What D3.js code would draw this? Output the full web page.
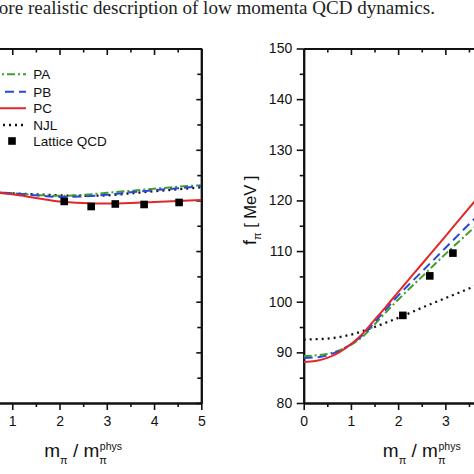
<!DOCTYPE html>
<html><head><meta charset="utf-8">
<script src="https://cdn.jsdelivr.net/npm/d3@7"></script>
<style>body{margin:0;background:#fff}svg{display:block}</style>
</head><body>
<script>
// ---- data ----
const seriesNames = ["PA", "PB", "PC", "NJL"];
const legendLabels = ["PA", "PB", "PC", "NJL", "Lattice QCD"];
const xTicks = [0, 1, 2, 3, 4, 5];
const yTicks = [80, 90, 100, 110, 120, 130, 140, 150];

// left panel (quantity normalised in same frame)
const leftX   = [0.5, 1, 1.5, 2, 2.5, 3, 3.5, 4, 4.5, 5];
const leftPA  = [121.7, 121.4, 121.1, 120.9, 121.1, 121.5, 121.9, 122.3, 122.7, 123.0];
const leftPB  = [121.7, 121.4, 121.0, 120.7, 120.8, 121.1, 121.6, 122.0, 122.4, 122.8];
const leftPC  = [121.7, 121.2, 120.5, 119.8, 119.5, 119.4, 119.5, 119.7, 119.9, 120.1];
const leftNJL = [121.6, 121.4, 121.2, 121.0, 120.9, 121.0, 121.4, 121.8, 122.2, 122.6];
const leftLatX = [2.1, 2.67, 3.18, 3.79, 4.53];
const leftLatY = [119.8, 118.8, 119.3, 119.2, 119.6];

// right panel: f_pi [MeV]
const rightX   = [0, 0.25, 0.5, 0.75, 1, 1.25, 1.5, 1.75, 2, 2.5, 3, 3.5, 4];
const rightPA  = [89.3, 89.4, 89.7, 90.4, 91.5, 93.1, 95.5, 98.0, 100.4, 104.9, 109.4, 113.7, 118.0];
const rightPB  = [88.9, 89.0, 89.4, 90.3, 91.6, 93.4, 95.9, 98.6, 101.2, 105.9, 110.6, 115.3, 120.0];
const rightPC  = [88.1, 88.3, 88.9, 90.0, 91.6, 93.7, 96.4, 99.1, 101.9, 107.4, 112.9, 118.5, 124.0];
const rightNJL = [92.5, 92.6, 92.7, 93.0, 93.5, 94.2, 95.0, 95.9, 96.8, 98.8, 100.7, 102.6, 104.5];
const rightLatX = [2.1, 2.67, 3.16];
const rightLatY = [97.3, 105.1, 109.6];

const colors = {PA: "#3f9f2a", PB: "#2a48d8", PC: "#e02828", NJL: "#111"};
const dashes = {PA: "8,3,2,3", PB: "9,5", PC: null, NJL: "2,4"};

// ---- layout ----
const W = 474, H = 474;
const svg = d3.select("body").append("svg").attr("width", W).attr("height", H)
  .style("font-family", "'Liberation Sans', Arial, sans-serif");
svg.append("rect").attr("width", W).attr("height", H).attr("fill", "#fff");

const yTop = 48.5, yBot = 403;
const y = d3.scaleLinear().domain([80, 150]).range([yBot, yTop]);
const xL = d3.scaleLinear().domain([0, 5]).range([-35.0, 201.3]);
const xR = d3.scaleLinear().domain([0, 5]).range([303.7, 539.8]);

// top caption
svg.append("text").attr("x", -16).attr("y", 14)
  .attr("font-family", "'Liberation Serif', 'DejaVu Serif', serif")
  .attr("font-size", 18).attr("fill", "#222")
  .attr("textLength", 451).attr("lengthAdjust", "spacingAndGlyphs")
  .text("more realistic description of low momenta QCD dynamics.");

const xMinor = d3.range(0.5, 5, 1);
const yMinor = d3.range(85, 150, 10);

function styleAxis(g) {
  g.select(".domain").attr("stroke", "#111").attr("stroke-width", 2);
  g.selectAll(".tick line").attr("stroke", "#111").attr("stroke-width", 1.6);
  g.selectAll(".tick text").attr("font-size", 14).attr("fill", "#111")
    .attr("font-family", "'Liberation Sans', Arial, sans-serif");
}

function panel(x, labelsLeft) {
  const g = svg.append("g");
  g.append("g").attr("transform", `translate(0,${yBot})`)
    .call(d3.axisBottom(x).tickValues(xMinor).tickSize(4).tickSizeOuter(0).tickFormat(""))
    .call(styleAxis);
  g.append("g").attr("transform", `translate(0,${yBot})`)
    .call(d3.axisBottom(x).tickValues(xTicks).tickSize(7).tickSizeOuter(0).tickPadding(6.5).tickFormat(d3.format("d")))
    .call(styleAxis);
  g.append("g").attr("transform", `translate(0,${yTop})`)
    .call(d3.axisTop(x).tickValues(xMinor).tickSize(-4).tickSizeOuter(0).tickFormat(""))
    .call(styleAxis);
  g.append("g").attr("transform", `translate(0,${yTop})`)
    .call(d3.axisTop(x).tickValues(xTicks).tickSize(-6.5).tickSizeOuter(0).tickFormat(""))
    .call(styleAxis);
  const x0 = x.range()[0], x1 = x.range()[1];
  g.append("g").attr("transform", `translate(${x0},0)`)
    .call(d3.axisLeft(y).tickValues(yMinor).tickSize(4).tickSizeOuter(0).tickFormat(""))
    .call(styleAxis);
  g.append("g").attr("transform", `translate(${x0},0)`)
    .call(d3.axisLeft(y).tickValues(yTicks).tickSize(7).tickSizeOuter(0).tickPadding(4.5).tickFormat(labelsLeft ? d3.format("d") : ""))
    .call(styleAxis);
  g.append("g").attr("transform", `translate(${x1},0)`)
    .call(d3.axisRight(y).tickValues(yMinor).tickSize(-4).tickSizeOuter(0).tickFormat(""))
    .call(styleAxis);
  g.append("g").attr("transform", `translate(${x1},0)`)
    .call(d3.axisRight(y).tickValues(yTicks).tickSize(-5).tickSizeOuter(0).tickFormat(""))
    .call(styleAxis);
  return g;
}

function curves(x, xs, data, clipId) {
  const x0 = x.range()[0], x1 = x.range()[1];
  svg.append("clipPath").attr("id", clipId).append("rect")
    .attr("x", x0).attr("y", yTop).attr("width", x1 - x0).attr("height", yBot - yTop);
  const g = svg.append("g").attr("clip-path", `url(#${clipId})`);
  const line = d3.line().x(d => x(d[0])).y(d => y(d[1])).curve(d3.curveMonotoneX);
  ["NJL", "PA", "PB", "PC"].forEach(name => {
    const pts = xs.map((v, i) => [v, data[name][i]]);
    g.append("path").attr("d", line(pts)).attr("fill", "none")
      .attr("stroke", colors[name]).attr("stroke-width", name === "NJL" ? 2.3 : 2)
      .attr("stroke-dasharray", dashes[name]);
  });
  return g;
}

function lattice(x, lx, ly) {
  svg.append("g").selectAll("rect").data(lx.map((v, i) => [v, ly[i]])).join("rect")
    .attr("x", d => x(d[0]) - 3.8).attr("y", d => y(d[1]) - 3.8)
    .attr("width", 7.6).attr("height", 7.6).attr("fill", "#000");
}

panel(xL, false);
curves(xL, leftX, {PA: leftPA, PB: leftPB, PC: leftPC, NJL: leftNJL}, "clipL");
lattice(xL, leftLatX, leftLatY);

panel(xR, true);
curves(xR, rightX, {PA: rightPA, PB: rightPB, PC: rightPC, NJL: rightNJL}, "clipR");
lattice(xR, rightLatX, rightLatY);

// legend
const legY = [74.3, 91.7, 108.3, 125, 141];
const leg = svg.append("g");
seriesNames.forEach((name, i) => {
  leg.append("line").attr("x1", -9).attr("x2", 26).attr("y1", legY[i]).attr("y2", legY[i])
    .attr("stroke", colors[name]).attr("stroke-width", name === "NJL" ? 2.3 : 2)
    .attr("stroke-dasharray", dashes[name]);
});
leg.append("rect").attr("x", 12 - 3.8).attr("y", legY[4] - 3.8).attr("width", 7.6).attr("height", 7.6).attr("fill", "#000");
legendLabels.forEach((t, i) => {
  leg.append("text").attr("x", 33.3).attr("y", legY[i] + 4.8).attr("font-size", 13.5).attr("fill", "#111").text(t);
});

// x-axis labels
function xLabel(cx) {
  const g = svg.append("g").attr("fill", "#111");
  const base = 457.3;
  const t = g.append("text").attr("y", base).attr("font-size", 19);
  t.append("tspan").text("m");
  t.append("tspan").attr("font-size", 11).attr("dy", 6.5).text("π");
  t.append("tspan").attr("dy", -6.5).text(" / m");
  const piSub = t.append("tspan").attr("font-size", 11).attr("dy", 6.5).text("π");
  const piW = piSub.node().getComputedTextLength();
  t.append("tspan").attr("font-size", 10.5).attr("dx", -piW + 0.5).attr("dy", -13.5).text("phys");
  const w = t.node().getBBox().width;
  t.attr("x", cx - w / 2);
}
xLabel((xL.range()[0] + xL.range()[1]) / 2);
xLabel((xR.range()[0] + xR.range()[1]) / 2);

// y-axis label, right panel
const yl = svg.append("text").attr("transform", "translate(255.5,245) rotate(-90)")
  .attr("font-size", 16.5).attr("fill", "#111");
yl.append("tspan").attr("font-size", 18).text("f");
yl.append("tspan").attr("font-size", 11).attr("dy", 5).text("π");
yl.append("tspan").attr("dy", -5).text("  [ MeV ]");
</script>
</body></html>
